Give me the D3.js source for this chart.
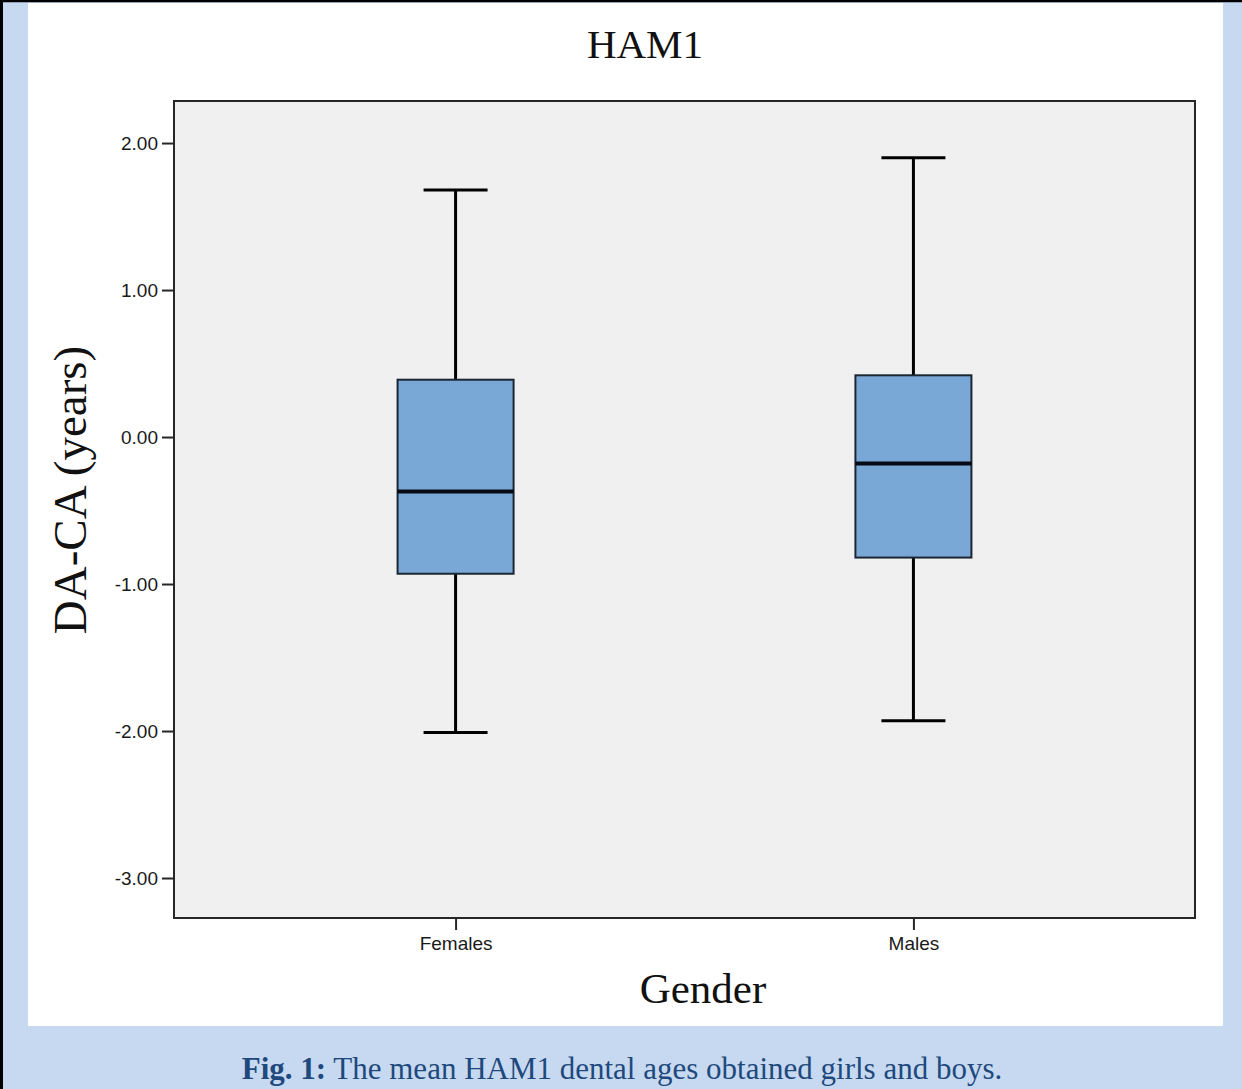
<!DOCTYPE html>
<html><head><meta charset="utf-8">
<script src="https://cdn.jsdelivr.net/npm/d3@7"></script>
<style>html,body{margin:0;padding:0;background:#fff;}svg{display:block;}</style>
</head><body>
<svg id="c" width="1242" height="1089"></svg>
<script>
const title = "HAM1";
const categories = ["Females", "Males"];
const whiskerLow  = [-2.01, -1.93];
const q1          = [-0.93, -0.82];
const median      = [-0.37, -0.18];
const q3          = [0.39, 0.42];
const whiskerHigh = [1.68, 1.90];
const yTicks = [2, 1, 0, -1, -2, -3];
const yLabel = "DA-CA (years)";
const xLabel = "Gender";
const captionBold = "Fig. 1:";
const captionText = " The mean HAM1 dental ages obtained girls and boys.";

const svg = d3.select("#c");
const W = 1242, H = 1089;
// frame
svg.append("rect").attr("x",0).attr("y",0).attr("width",W).attr("height",H).attr("fill","#c6d9f0");
svg.append("rect").attr("x",28).attr("y",3).attr("width",1195).attr("height",1023).attr("fill","#ffffff");
svg.append("line").attr("x1",0).attr("x2",W).attr("y1",1).attr("y2",1).attr("stroke","#000").attr("stroke-width",2.5);
svg.append("line").attr("x1",1.5).attr("x2",1.5).attr("y1",0).attr("y2",H).attr("stroke","#000").attr("stroke-width",3);

const m = {left:174, top:101, right:1195, bottom:918};
const y = d3.scaleLinear().domain([-3.272, 2.286]).range([m.bottom, m.top]);
const x = d3.scalePoint().domain(categories).range([m.left, m.right]).padding(0.615);

svg.append("rect").attr("x",m.left).attr("y",m.top).attr("width",m.right-m.left).attr("height",m.bottom-m.top)
  .attr("fill","#f0f0f0").attr("stroke","#262626").attr("stroke-width",2);

const fmt = d => d3.format(".2f")(d).replace("\u2212","-");
// y axis
const ya = svg.append("g").attr("transform",`translate(${m.left},0)`)
  .call(d3.axisLeft(y).tickValues(yTicks).tickFormat(fmt).tickSize(12).tickPadding(4));
ya.select(".domain").remove();
ya.selectAll("line").attr("stroke","#262626").attr("stroke-width",2);
ya.selectAll("text").attr("font-family","Liberation Sans, Arial, sans-serif").attr("font-size",19).attr("fill","#1a1a1a");

// x axis
const xa = svg.append("g").attr("transform",`translate(0,${m.bottom})`)
  .call(d3.axisBottom(x).tickSize(12).tickPadding(7));
xa.select(".domain").remove();
xa.selectAll("line").attr("stroke","#262626").attr("stroke-width",2);
xa.selectAll("text").attr("font-family","Liberation Sans, Arial, sans-serif").attr("font-size",19).attr("fill","#1a1a1a");

const boxW = 116, capW = 64;
categories.forEach((c,i)=>{
  const cx = x(c);
  const g = svg.append("g");
  g.append("line").attr("x1",cx).attr("x2",cx).attr("y1",y(whiskerHigh[i])).attr("y2",y(q3[i])).attr("stroke","#000").attr("stroke-width",3);
  g.append("line").attr("x1",cx).attr("x2",cx).attr("y1",y(q1[i])).attr("y2",y(whiskerLow[i])).attr("stroke","#000").attr("stroke-width",3);
  g.append("line").attr("x1",cx-capW/2).attr("x2",cx+capW/2).attr("y1",y(whiskerHigh[i])).attr("y2",y(whiskerHigh[i])).attr("stroke","#000").attr("stroke-width",3);
  g.append("line").attr("x1",cx-capW/2).attr("x2",cx+capW/2).attr("y1",y(whiskerLow[i])).attr("y2",y(whiskerLow[i])).attr("stroke","#000").attr("stroke-width",3);
  g.append("rect").attr("x",cx-boxW/2).attr("y",y(q3[i])).attr("width",boxW).attr("height",y(q1[i])-y(q3[i]))
    .attr("fill","#79a8d6").attr("stroke","#1c2633").attr("stroke-width",2);
  g.append("line").attr("x1",cx-boxW/2).attr("x2",cx+boxW/2).attr("y1",y(median[i])).attr("y2",y(median[i])).attr("stroke","#050a14").attr("stroke-width",4);
});

const serif = "Liberation Serif, Times New Roman, serif";
svg.append("text").attr("x",645).attr("y",58).attr("text-anchor","middle").attr("font-family",serif).attr("font-size",41).attr("fill","#111").text(title);
svg.append("text").attr("x",703).attr("y",1003).attr("text-anchor","middle").attr("font-family",serif).attr("font-size",43).attr("fill","#111").text(xLabel);
svg.append("text").attr("transform","translate(86,490) rotate(-90)").attr("text-anchor","middle").attr("font-family",serif).attr("font-size",47).attr("fill","#111").text(yLabel);

const cap = svg.append("text").attr("x",622).attr("y",1079).attr("text-anchor","middle").attr("font-family",serif).attr("font-size",31).attr("fill","#1f497d");
cap.append("tspan").attr("font-weight","bold").text(captionBold);
cap.append("tspan").text(captionText);
</script>
</body></html>
